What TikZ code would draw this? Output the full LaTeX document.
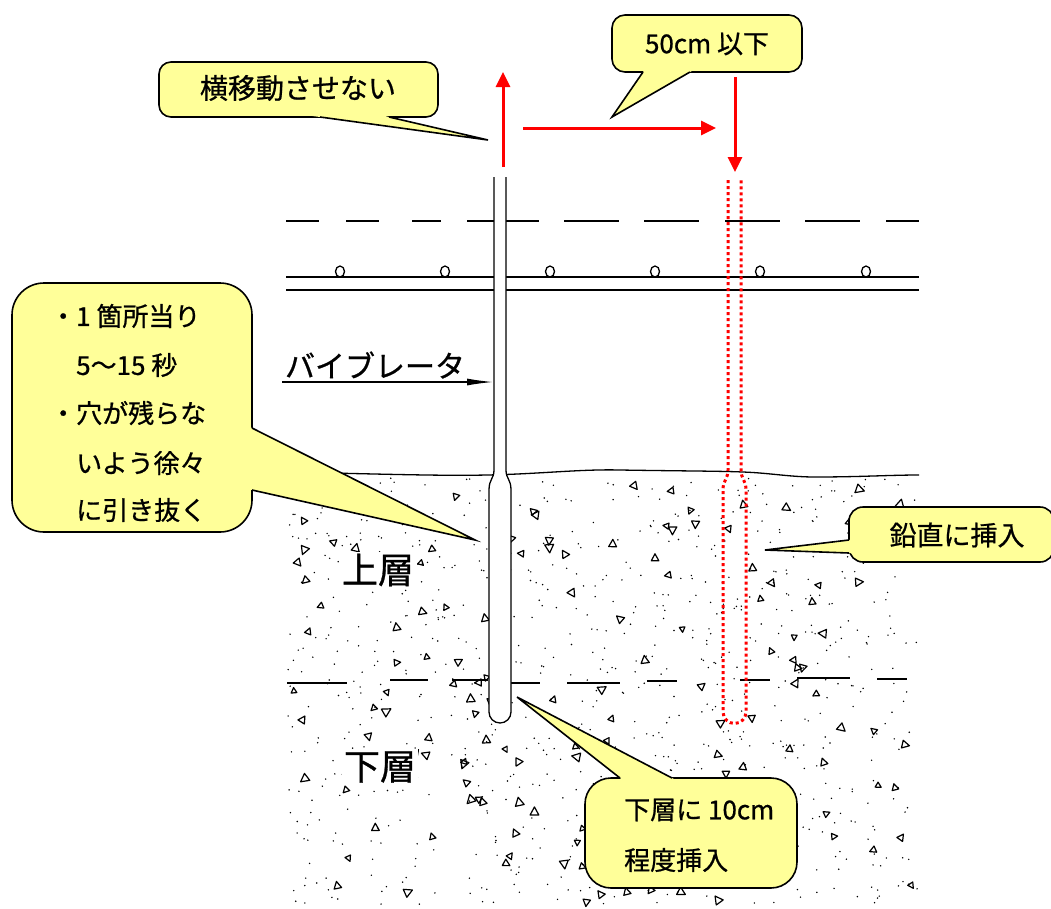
\documentclass[tikz,border=0pt]{standalone}
\usepackage{fontspec}
\setmainfont{Noto Sans CJK JP}[FakeBold=0.8]
\usetikzlibrary{arrows.meta,calc}
\definecolor{callfill}{RGB}{255,255,153}
\definecolor{redline}{RGB}{255,0,0}
\tikzset{
  callbox/.style={draw=black,line width=1.6pt,fill=callfill,rounded corners=#1,inner sep=0pt},
  tailside/.style={draw=black,line width=1.6pt,line join=miter},
  redarrow/.style={draw=redline,line width=3pt,-{Triangle[length=15pt,width=14pt]}},
  reddot/.style={draw=redline,line width=3pt,dash pattern=on 3pt off 3pt},
  struct/.style={draw=black,line width=1.3pt},
  txt/.style={inner sep=0pt,font=\fontsize{26}{30}\selectfont},
  midtxt/.style={inner sep=0pt,font=\fontsize{30}{34}\selectfont},
  bigtxt/.style={inner sep=2pt,fill=white,font=\fontsize{36}{40}\selectfont},
  tri/.style={draw=black,line width=1.2pt,line join=round},
}
\newcommand{\mytail}[3]{%
  \fill[callfill] ($(#1)!-12pt!(#2)$) -- (#2) -- ($(#3)!-12pt!(#2)$) -- cycle;
  \draw[tailside] (#1) -- (#2) -- (#3);}
\begin{document}
\begin{tikzpicture}[x=1pt,y=-1pt]
\useasboundingbox (0,0) rectangle (1051,908);

% ---------- concrete texture ----------
\pgfmathsetseed{4321}
\foreach \i in {1,...,850}{
  \pgfmathsetmacro{\dx}{288+630*rnd}
  \pgfmathsetmacro{\dy}{478+428*rnd}
  \fill (\dx,\dy) circle (0.8pt);
}
\foreach \i in {1,...,150}{
  \pgfmathsetmacro{\tx}{293+620*rnd}
  \pgfmathsetmacro{\ty}{485+418*rnd}
  \pgfmathsetmacro{\ta}{360*rnd}
  \pgfmathsetmacro{\ts}{0.8+0.5*rnd}
  \draw[tri,shift={(\tx,\ty)},rotate=\ta,scale=\ts] (-3.5,2.5) -- (3.5,2.5) -- (0,-4) -- cycle;
}

% ---------- layer boundary ----------
\foreach \a/\b/\y in {287/347/683,390/428/680,452/488/680,510/540/683,567/620/683,647/677/681,740/770/680,797/850/678,877/907/679}{
  \draw[struct] (\a,\y) -- (\b,\y);
}
% ---------- concrete surface ----------
\draw[struct] (286,472) .. controls (380,474) and (440,476) .. (487,475)
  .. controls (540,474) and (580,469) .. (620,470)
  .. controls (680,471) and (720,471) .. (743,472)
  .. controls (770,473) and (790,477) .. (815,477)
  .. controls (860,477) and (890,475) .. (919,475);

% ---------- reinforcement ----------
\draw[struct] (286,277) -- (919,277);
\draw[struct] (286,290) -- (919,290);
\foreach \x in {340,445,550,655,760,866}{
  \draw[struct] (\x,271.5) ellipse (4.5pt and 5.5pt);
}
\foreach \a/\b in {286/319,346/379,412/441,467/494,506/539,564/619,644/699,725/780,805/860,886/919}{
  \draw[struct] (\a,221) -- (\b,221);
}

% ---------- red dotted new position ----------
\draw[reddot] (728,180) -- (728,470) .. controls (728,479) and (723,480) .. (723,490)
  -- (723,712) .. controls (723,718.3) and (728.2,723.5) .. (734.5,723.5)
  .. controls (740.8,723.5) and (746,718.3) .. (746,712)
  -- (746,490) .. controls (746,480) and (741,479) .. (741,470) -- (741,180);

% ---------- vibrator ----------
\fill[white] (494,177) -- (494,470) .. controls (494,479) and (489,479) .. (489,490)
  -- (489,712) .. controls (489,718.1) and (493.9,723) .. (500,723)
  .. controls (506.1,723) and (511,718.1) .. (511,712)
  -- (511,490) .. controls (511,479) and (506,479) .. (506,470) -- (506,177) -- cycle;
\draw[struct] (494,177) -- (494,470) .. controls (494,479) and (489,479) .. (489,490)
  -- (489,712) .. controls (489,718.1) and (493.9,723) .. (500,723)
  .. controls (506.1,723) and (511,718.1) .. (511,712)
  -- (511,490) .. controls (511,479) and (506,479) .. (506,470) -- (506,177);

% ---------- labels ----------
\node[midtxt] (vib) at (375,365) {バイブレータ};
\coordinate (vibfrom) at (282,382);
\coordinate (vibto) at (493,382);
\draw[struct,line width=1.2pt,-{Latex[length=26pt,width=7pt]}] (vibfrom) -- (vibto);
\node[bigtxt] (upper) at (378,570) {上層};
\node[bigtxt] (lower) at (380,767) {下層};

% ---------- red arrows ----------
\coordinate (up0) at (503,167);  \coordinate (up1) at (503,72);
\coordinate (rt0) at (523,128);  \coordinate (rt1) at (716,128);
\coordinate (dn0) at (735,77);   \coordinate (dn1) at (735,172);
\draw[redarrow] (up0) -- (up1);
\draw[redarrow] (rt0) -- (rt1);
\draw[redarrow] (dn0) -- (dn1);

% ---------- callout: 横移動させない ----------
\node[callbox=12pt,minimum width=279pt,minimum height=55pt] (box1) at (298.5,89.5) {};
\coordinate (b1a) at (320,117); \coordinate (b1t) at (488,140); \coordinate (b1b) at (389,117);
\mytail{b1a}{b1t}{b1b}
\node[txt,font=\fontsize{28}{30}\selectfont] (t1) at (298,88) {横移動させない};

% ---------- callout: 50cm 以下 ----------
\node[callbox=13pt,minimum width=190pt,minimum height=57pt] (box2) at (707,43.5) {};
\coordinate (b2a) at (643,72); \coordinate (b2t) at (612,117); \coordinate (b2b) at (690,72);
\mytail{b2a}{b2t}{b2b}
\node[txt] (t2) at (707,44) {50cm 以下};

% ---------- callout: left ----------
\node[callbox=32pt,minimum width=240pt,minimum height=249pt] (box3) at (132,407.5) {};
\coordinate (b3a) at (252,428); \coordinate (b3t) at (475,540); \coordinate (b3b) at (252,490);
\mytail{b3a}{b3t}{b3b}
\node[txt,anchor=west] (l1) at (50,316) {・1 箇所当り};
\node[txt,anchor=west] (l2) at (76,365) {5～15 秒};
\node[txt,anchor=west] (l3) at (50,413) {・穴が残らな};
\node[txt,anchor=west] (l4) at (76,463) {いよう徐々};
\node[txt,anchor=west] (l5) at (76,510) {に引き抜く};

% ---------- callout: 鉛直に挿入 ----------
\node[callbox=14pt,minimum width=205pt,minimum height=55pt] (box4) at (951.5,534.5) {};
\coordinate (b4a) at (849,540); \coordinate (b4t) at (765,550); \coordinate (b4b) at (849,553);
\mytail{b4a}{b4t}{b4b}
\node[txt,font=\fontsize{27}{30}\selectfont] (t4) at (957,535) {鉛直に挿入};

% ---------- callout: 下層に10cm ----------
\node[callbox=26pt,minimum width=212pt,minimum height=110pt] (box5) at (691,833) {};
\coordinate (b5a) at (620,778); \coordinate (b5t) at (517,697); \coordinate (b5b) at (672,778);
\mytail{b5a}{b5t}{b5b}
\node[txt,anchor=west] (t5a) at (624,810) {下層に 10cm};
\node[txt,anchor=west] (t5b) at (624,860) {程度挿入};
\end{tikzpicture}
\end{document}
